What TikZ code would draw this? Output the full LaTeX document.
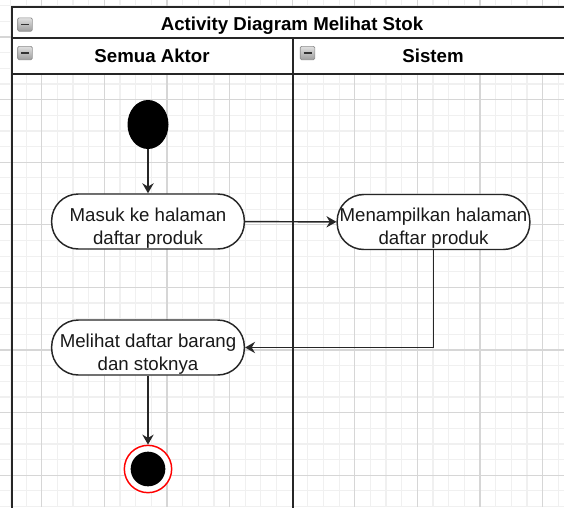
\documentclass[tikz,border=0pt]{standalone}
\usepackage{fontspec}
\setmainfont{Liberation Sans}
\usetikzlibrary{arrows.meta,shapes.geometric}
\newcommand{\toppad}{\rule{0pt}{20pt}}% pushes the two text lines down a little

\begin{document}
\begin{tikzpicture}[x=0.75pt,y=-0.75pt,
    gridminor/.style={draw=black!6,line width=0.9pt},
    gridmajor/.style={draw=black!16,line width=0.9pt},
    lane/.style={draw=black!85,line width=1.3pt},
    header/.style={anchor=base,font=\fontsize{14pt}{17pt}\selectfont\bfseries},
    minusbox/.style={draw=black!45,line width=0.5pt,rounded corners=1pt,
      top color=black!12,bottom color=black!38,
      minimum width=11pt,minimum height=10pt,inner sep=0pt,
      path picture={\draw[black!80,line width=1.4pt]
        ([xshift=-3pt]path picture bounding box.center) -- ++(6pt,0);}},
    action/.style={draw=black!85,fill=white,line width=1.1pt,rounded corners=20pt,
      minimum width=144.5pt,minimum height=41.25pt,inner sep=0pt,align=center,
      text=black!90,font=\fontsize{14pt}{17.25pt}\selectfont},
    startstate/.style={ellipse,fill=black,minimum width=30.75pt,minimum height=36.75pt,inner sep=0pt},
    endstate/.style={circle,draw=red,fill=white,line width=1.1pt,minimum size=35.5pt,inner sep=0pt,
      path picture={\fill[black] (path picture bounding box.center) circle (13pt);}},
    flow/.style={draw=black!85,line width=1.1pt,-{Stealth[length=7.5pt,width=8.5pt,inset=2.5pt]}}]
  \useasboundingbox (0,0) rectangle (564,507);
  \clip (0,0) rectangle (564,507);
  % background grid
  \foreach \i in {0,...,36}{%
    \draw[gridminor] ({10.45+15.65*\i},0) -- ++(0,507);
  }
  \foreach \j in {0,...,32}{%
    \draw[gridminor] (0,{5.7+15.65*\j}) -- ++(564,0);
  }
  \foreach \i in {0,...,8}{% every fourth line is darker
    \draw[gridmajor] ({41.75+62.6*\i},0) -- ++(0,507);
  }
  \foreach \j in {0,...,7}{%
    \draw[gridmajor] (0,{37+62.6*\j}) -- ++(564,0);
  }
  % pool and lanes
  \fill[white] (12,7) rectangle (600,74);
  \draw[lane] (600,7) -- (12,7) -- (12,520);
  \draw[lane] (12,38) -- (600,38);
  \draw[lane] (12,74) -- (600,74);
  \draw[lane] (293,38) -- (293,520);
  \node[header] (title) at (292,30.5) {Activity Diagram Melihat Stok};
  \node[header] (aktor) at (152,62.5) {Semua Aktor};
  \node[header] (sistem) at (433,62.5) {Sistem};
  \node[minusbox] (fold1) at (25,24.5) {};
  \node[minusbox] (fold2) at (25,53) {};
  \node[minusbox] (fold3) at (307.5,53) {};
  % activities
  \node[startstate] (start) at (148,124.5) {};
  \node[action] (masuk) at (148,221.5) {\toppad Masuk ke halaman\\daftar produk};
  \node[action] (tampil) at (433.5,222) {\toppad Menampilkan halaman\\daftar produk};
  \node[action] (lihat) at (148,347.5) {\toppad Melihat daftar barang\\dan stoknya};
  \node[endstate] (stop) at (148,469) {};
  % flows
  \draw[flow] (start) -- (masuk);
  \draw[flow] (masuk) -- (tampil);
  \draw[flow] (tampil.south) |- (lihat.east);
  \draw[flow] (lihat) -- (stop);
\end{tikzpicture}
\end{document}
